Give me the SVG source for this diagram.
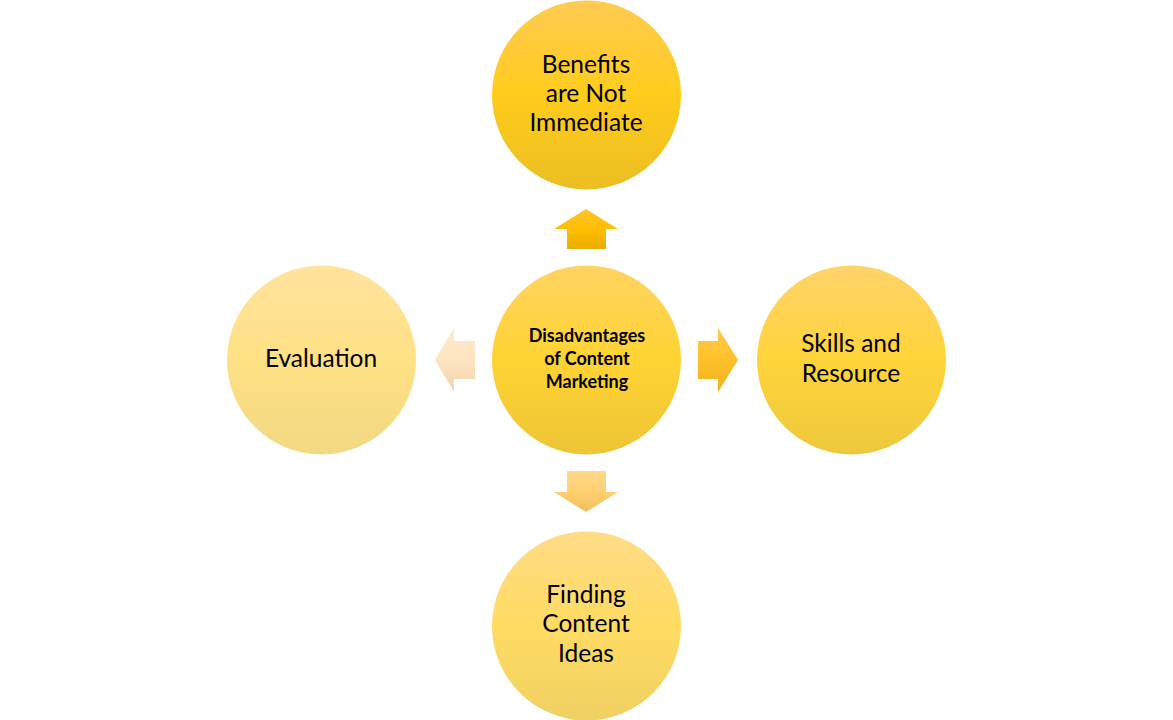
<svg xmlns="http://www.w3.org/2000/svg" width="1173" height="720" viewBox="0 0 1173 720">
<defs>
<linearGradient id="gTop" x1="0" y1="0" x2="0" y2="1"><stop offset="0" stop-color="#FFCB52"/><stop offset="0.5" stop-color="#FFCC1C"/><stop offset="1" stop-color="#EBBE22"/></linearGradient>
<linearGradient id="gCenter" x1="0" y1="0" x2="0" y2="1"><stop offset="0" stop-color="#FFD362"/><stop offset="0.5" stop-color="#FFD333"/><stop offset="1" stop-color="#EDC535"/></linearGradient>
<linearGradient id="gRight" x1="0" y1="0" x2="0" y2="1"><stop offset="0" stop-color="#FFD36A"/><stop offset="0.5" stop-color="#FFD43A"/><stop offset="1" stop-color="#EDC83C"/></linearGradient>
<linearGradient id="gBottom" x1="0" y1="0" x2="0" y2="1"><stop offset="0" stop-color="#FFDC86"/><stop offset="0.5" stop-color="#FFDB63"/><stop offset="1" stop-color="#EFD062"/></linearGradient>
<linearGradient id="gLeft" x1="0" y1="0" x2="0" y2="1"><stop offset="0" stop-color="#FFE39E"/><stop offset="0.5" stop-color="#FFE185"/><stop offset="1" stop-color="#F1D882"/></linearGradient>
<linearGradient id="aUp" x1="0" y1="0" x2="0" y2="1"><stop offset="0" stop-color="#FFC52E"/><stop offset="0.5" stop-color="#FFBE00"/><stop offset="1" stop-color="#E9AD00"/></linearGradient>
<linearGradient id="aRight" x1="0" y1="0" x2="0" y2="1"><stop offset="0" stop-color="#FFC94A"/><stop offset="0.5" stop-color="#FFC12A"/><stop offset="1" stop-color="#EDB020"/></linearGradient>
<linearGradient id="aDown" x1="0" y1="0" x2="0" y2="1"><stop offset="0" stop-color="#FFD88A"/><stop offset="0.5" stop-color="#FFD070"/><stop offset="1" stop-color="#EFBF5E"/></linearGradient>
<linearGradient id="aLeft" x1="0" y1="0" x2="0" y2="1"><stop offset="0" stop-color="#FFEACB"/><stop offset="0.5" stop-color="#FDE4BF"/><stop offset="1" stop-color="#EFD6B0"/></linearGradient>
</defs>
<style>
.t{font-family:Lato,"Open Sans","Liberation Sans",sans-serif;font-size:24.5px;fill:#000;text-anchor:middle}
.tb{font-family:Lato,"Open Sans","Liberation Sans",sans-serif;font-size:18px;font-weight:bold;fill:#000;text-anchor:middle}
</style>
<rect width="1173" height="720" fill="#FFFFFF"/>
<g id="connectors">
<polygon points="586,209 618,229 606,229 606,249 567,249 567,229 554,229" fill="url(#aUp)"/>
<polygon points="738,360 718,392 718,379 698,379 698,341 718,341 718,328" fill="url(#aRight)"/>
<polygon points="586,512 618,492 606,492 606,471 567,471 567,492 554,492" fill="url(#aDown)"/>
<polygon points="435,360 454,392 454,379 475,379 475,341 454,341 454,328" fill="url(#aLeft)"/>
</g>
<g id="node-center">
<circle cx="586.5" cy="360" r="94.5" fill="url(#gCenter)"/>
<text class="tb" x="587" y="342">Disadvantages</text>
<text class="tb" x="587" y="365">of Content</text>
<text class="tb" x="587" y="388">Marketing</text>
</g>
<g id="node-top">
<circle cx="586.5" cy="95" r="94.5" fill="url(#gTop)"/>
<text class="t" x="586" y="73">Benefits</text>
<text class="t" x="586" y="102">are Not</text>
<text class="t" x="586" y="131">Immediate</text>
</g>
<g id="node-right">
<circle cx="851.5" cy="360" r="94.5" fill="url(#gRight)"/>
<text class="t" x="851" y="352">Skills and</text>
<text class="t" x="851" y="382">Resource</text>
</g>
<g id="node-bottom">
<circle cx="586.5" cy="626" r="94.5" fill="url(#gBottom)"/>
<text class="t" x="586" y="603">Finding</text>
<text class="t" x="586" y="632">Content</text>
<text class="t" x="586" y="662">Ideas</text>
</g>
<g id="node-left">
<circle cx="321.5" cy="360" r="94.5" fill="url(#gLeft)"/>
<text class="t" x="321" y="367">Evaluation</text>
</g>
</svg>
